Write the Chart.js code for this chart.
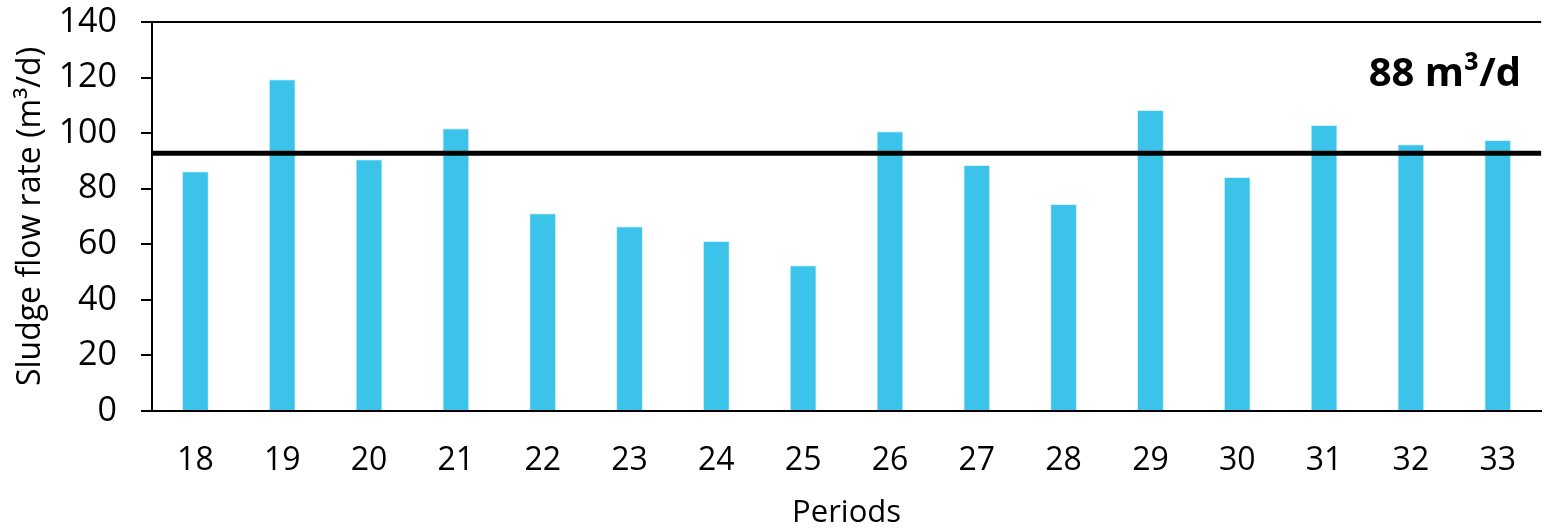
<!DOCTYPE html>
<html>
<head>
<meta charset="utf-8">
<script src="https://cdn.jsdelivr.net/npm/chart.js@4"></script>
<style>
    html, body { margin: 0; padding: 0; background: #fff; }
    #wrap { width: 1547px; height: 528px; }
</style>
</head>
<body>
<div id="wrap"><canvas id="flowChart" width="1547" height="528"></canvas></div>
<script>
const periods = ['18', '19', '20', '21', '22', '23', '24', '25', '26', '27', '28', '29', '30', '31', '32', '33'];
const sludgeFlow = [86.3, 119.4, 90.6, 101.8, 71.2, 66.5, 61.2, 52.5, 100.7, 88.5, 74.5, 108.3, 84.2, 102.9, 96, 97.5];
const averageLine = 92.8;
const averageLabel = '88 m³/d';

const fontName = "'Open Sans', sans-serif";

// draws the average line, the top border and the bold label
const extras = {
    id: 'extras',
    afterDatasetsDraw(chart) {
        const { ctx, chartArea, scales } = chart;
        const y = scales.y.getPixelForValue(averageLine);
        ctx.save();
        ctx.strokeStyle = '#000';
        ctx.lineWidth = 5;
        ctx.beginPath();
        ctx.moveTo(chartArea.left, y);
        ctx.lineTo(chartArea.right, y);
        ctx.stroke();

        ctx.lineWidth = 2;
        ctx.beginPath();
        ctx.moveTo(chartArea.left - 11, chartArea.top);
        ctx.lineTo(chartArea.right, chartArea.top);
        ctx.stroke();

        ctx.fillStyle = '#000';
        ctx.font = "bold 40px " + fontName;
        ctx.textAlign = 'right';
        ctx.textBaseline = 'middle';
        ctx.fillText(averageLabel, chartArea.right - 20, scales.y.getPixelForValue(121));
        ctx.restore();
    }
};

const ctx = document.getElementById('flowChart').getContext('2d');
new Chart(ctx, {
    type: 'bar',
    data: {
        labels: periods,
        datasets: [
            {
                label: 'Sludge flow rate',
                data: sludgeFlow,
                backgroundColor: '#3BC3EA',
                borderColor: '#d6f1fa',
                borderWidth: 1,
                categoryPercentage: 1,
                barPercentage: 0.31
            }
        ]
    },
    options: {
        responsive: false,
        animation: false,
        layout: { padding: 0 },
        plugins: {
            legend: { display: false },
            tooltip: { enabled: false }
        },
        scales: {
            x: {
                grid: { display: false, drawTicks: false },
                border: { color: '#000', width: 2 },
                ticks: { color: '#000', font: { family: fontName, size: 32 }, padding: 31, maxRotation: 0 },
                title: { display: true, text: 'Periods', color: '#000', font: { family: fontName, size: 31 }, padding: { top: 8, bottom: -4 } },
                afterFit(scale) { scale.height = 117; }
            },
            y: {
                min: 0,
                max: 140,
                grid: { drawOnChartArea: false, drawTicks: true, tickLength: 11, color: '#000', lineWidth: 2 },
                border: { color: '#000', width: 2 },
                ticks: { stepSize: 20, color: '#000', font: { family: fontName, size: 34 }, padding: 24 },
                title: { display: true, text: 'Sludge flow rate (m³/d)', color: '#000', font: { family: fontName, size: 32 }, padding: { top: 12, bottom: 0 } },
                afterFit(scale) { scale.width = 152; scale.paddingTop = 22; scale.paddingBottom = 0; }
            }
        }
    },
    plugins: [extras]
});
</script>
</body>
</html>
